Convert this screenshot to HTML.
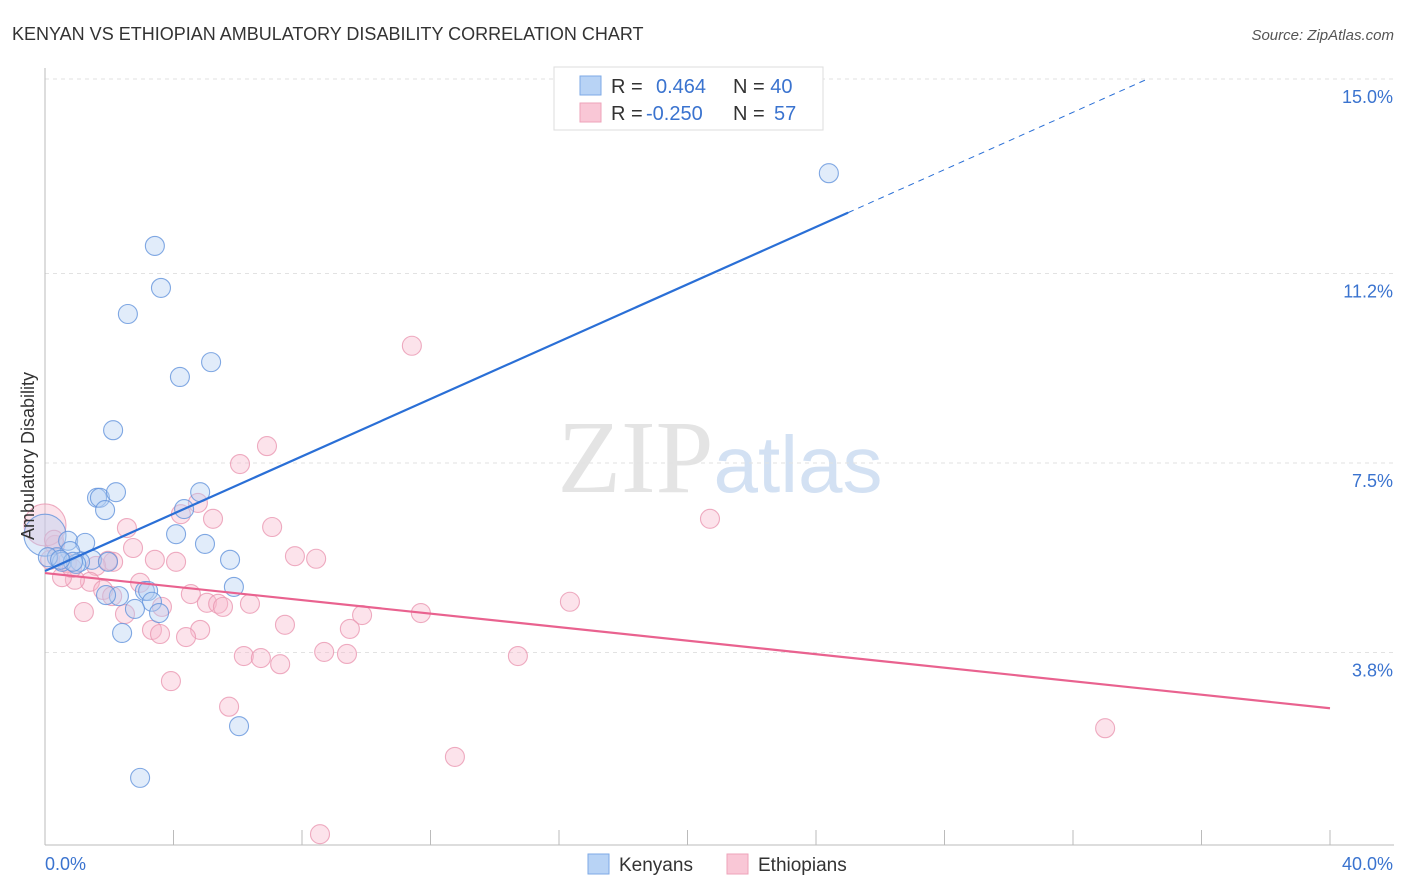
<!DOCTYPE html>
<html><head><meta charset="utf-8"><style>
body{margin:0;background:#fff;font-family:"Liberation Sans",sans-serif;}
svg{display:block}
</style></head><body>
<svg id="chart" width="1406" height="892" xmlns="http://www.w3.org/2000/svg" font-family="Liberation Sans, sans-serif">
<text x="12" y="40" font-size="18" fill="#333">KENYAN VS ETHIOPIAN AMBULATORY DISABILITY CORRELATION CHART</text>
<text x="1394" y="40" font-size="15" fill="#555" text-anchor="end" font-style="italic">Source: ZipAtlas.com</text>
<text x="720" y="492" font-size="104" text-anchor="middle" fill="#e4e4e4"><tspan font-family="Liberation Serif, serif">ZIP</tspan><tspan fill="#d3e1f3" font-size="80">atlas</tspan></text>
<g id="grid"></g>
<g id="axes"></g>
<g id="pts"></g>
<g id="lines"></g>
<text transform="translate(34,456) rotate(-90)" font-size="18" fill="#333" text-anchor="middle">Ambulatory Disability</text>
<g>
<rect x="554" y="67" width="269" height="63" fill="#fff" stroke="#ddd"/>
<rect x="580" y="76" width="21" height="19" fill="#b8d3f5" stroke="#7ea9e6"/>
<rect x="580" y="103" width="21" height="19" fill="#f9c7d6" stroke="#eea3ba"/>
<text x="611" y="93" font-size="20" fill="#333">R = <tspan fill="#3a73cf" x="656">0.464</tspan><tspan x="733" fill="#333">N = </tspan><tspan fill="#3a73cf">40</tspan></text>
<text x="611" y="120" font-size="20" fill="#333">R = <tspan fill="#3a73cf" x="646">-0.250</tspan><tspan x="733" fill="#333">N = </tspan><tspan fill="#3a73cf" x="774">57</tspan></text>
</g>
<g>
<rect x="588" y="854" width="21" height="20" fill="#b8d3f5" stroke="#7ea9e6"/>
<text x="619" y="871" font-size="19" fill="#333">Kenyans</text>
<rect x="727" y="854" width="21" height="20" fill="#f9c7d6" stroke="#eea3ba"/>
<text x="758" y="871" font-size="19" fill="#333">Ethiopians</text>
</g>
</svg>
<script>
const yTicks=[15.0,11.2,7.5,3.8];
const yTickLabels=["15.0%","11.2%","7.5%","3.8%"];
const xLabels=["0.0%","40.0%"];
const kenX=[24.4,3.42,3.61,2.58,5.17,4.20,2.12,1.62,1.71,2.21,1.87,4.83,4.33,4.08,4.98,5.76,5.88,3.11,3.21,2.30,1.90,3.33,2.80,3.55,2.40,6.04,2.96,0,0.72,1.25,0.78,0.37,0.53,0.09,1.46,1.09,0.97,0.87,0.47,1.96];
const kenY=[13.16,11.74,10.92,10.41,9.47,9.18,8.14,6.82,6.82,6.93,6.58,6.93,6.60,6.11,5.92,5.61,5.08,5.00,5.00,4.90,4.92,4.79,4.65,4.57,4.18,2.36,1.35,6.09,5.98,5.94,5.78,5.66,5.57,5.66,5.61,5.57,5.53,5.57,5.61,5.57];
const ethX=[11.42,6.91,6.07,20.70,4.76,4.23,5.23,7.07,2.55,2.74,7.78,8.44,3.42,4.08,2.12,1.59,1.96,2.96,1.40,0.93,0.53,0.68,0.16,0.31,1.81,2.09,4.54,3.64,5.04,5.39,5.54,6.38,16.34,11.70,9.87,1.21,2.49,4.83,3.33,3.58,4.39,9.49,7.47,6.19,6.72,7.32,8.69,9.40,14.72,3.92,5.73,12.76,33.0,8.56,0,0.28,0.84];
const ethY=[9.79,7.83,7.48,6.41,6.72,6.50,6.41,6.25,6.23,5.84,5.68,5.63,5.61,5.57,5.57,5.49,5.59,5.16,5.18,5.22,5.27,5.55,5.61,5.90,5.02,4.90,4.94,4.69,4.77,4.75,4.69,4.75,4.79,4.57,4.53,4.59,4.55,4.24,4.24,4.16,4.10,4.26,4.34,3.73,3.69,3.57,3.81,3.77,3.73,3.24,2.74,1.76,2.32,0.25,6.29,6.00,5.45];
const kenLine=[5.39,0.28];   // intercept, slope
const ethLine=[5.35,-0.066];
const NS="http://www.w3.org/2000/svg";
const X=v=>45+v/40*1285;
const Y=v=>79+(15-v)*51.2;
function mk(tag,attrs,parent){const e=document.createElementNS(NS,tag);for(const k in attrs)e.setAttribute(k,attrs[k]);parent.appendChild(e);return e;}
const grid=document.getElementById('grid'),axes=document.getElementById('axes');
yTicks.forEach((t,i)=>{
 const l=mk('line',{x1:45,x2:1394,y1:Y(t),y2:Y(t),stroke:'#e2e2e2','stroke-dasharray':'4,4'},grid);
 
 
 const tx=mk('text',{x:1393,y:Y(t)+24,'font-size':18,fill:'#3a73cf','text-anchor':'end'},axes);
 tx.textContent=yTickLabels[i];
 
 
});
mk('line',{x1:45,x2:45,y1:68,y2:845,stroke:'#bbb'},axes);
mk('line',{x1:45,x2:1394,y1:845,y2:845,stroke:'#bbb'},axes);
for(let i=1;i<=10;i++){const t=mk('line',{x1:X(i*4),x2:X(i*4),y1:830,y2:845,stroke:'#bbb'},axes);}
[[45,'start',xLabels[0]],[1393,'end',xLabels[1]]].forEach(a=>{const t=mk('text',{x:a[0],y:870,'font-size':18,fill:'#3a73cf','text-anchor':a[1]},axes);t.textContent=a[2];});
const pts=document.getElementById('pts');
function dots(xs,ys,fill,stroke,name){xs.forEach((x,i)=>{const big=(x===0);const c=mk('circle',{cx:X(x),cy:Y(ys[i]),r:big?21:9.5,fill:fill,'fill-opacity':0.4,stroke:stroke,'stroke-opacity':0.8,'stroke-width':1.1},pts);});}
dots(ethX,ethY,'#f7b9cc','#ea97b1','ethiopian-point');
dots(kenX,kenY,'#b3cff3','#6393dc','kenyan-point');
const lines=document.getElementById('lines');
const lk=e=>kenLine[0]+kenLine[1]*e;
const xEnd=(15-kenLine[0])/kenLine[1];
let a=mk('line',{x1:X(0),y1:Y(lk(0)),x2:X(25),y2:Y(lk(25)),stroke:'#2a6fd6','stroke-width':2.2},lines);

let b=mk('line',{x1:X(25),y1:Y(lk(25)),x2:X(xEnd),y2:Y(15),stroke:'#2a6fd6','stroke-width':1,'stroke-dasharray':'6,5'},lines);

let c=mk('line',{x1:X(0),y1:Y(ethLine[0]),x2:X(40),y2:Y(ethLine[0]+ethLine[1]*40),stroke:'#e9628f','stroke-width':2.2},lines);

</script>
</body></html>
